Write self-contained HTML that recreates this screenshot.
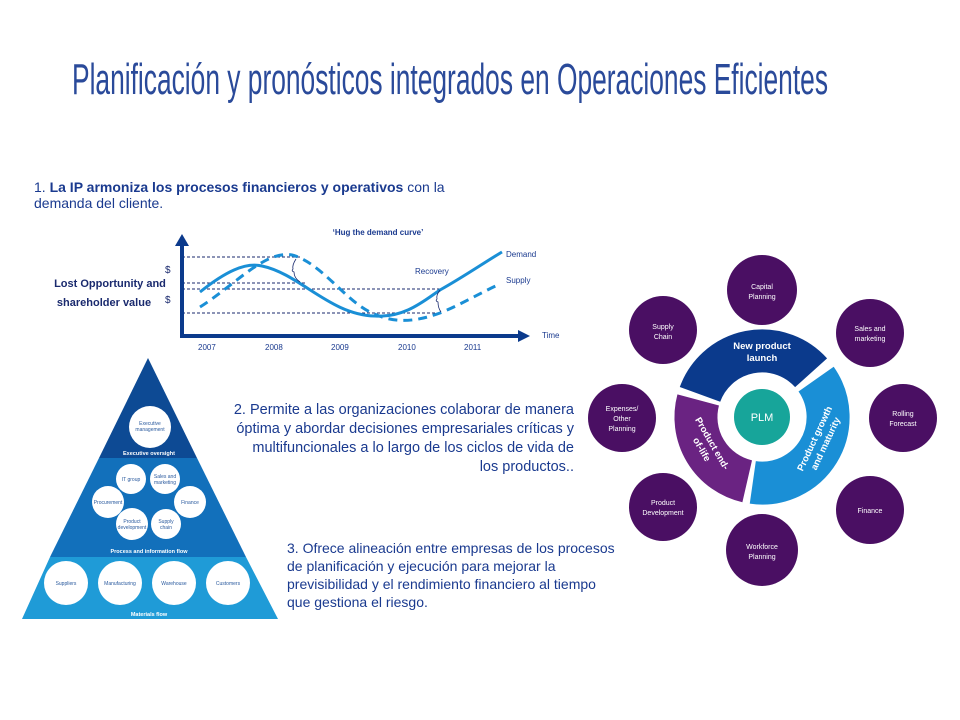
<!DOCTYPE html>
<html><head><meta charset="utf-8"><style>
html,body{margin:0;padding:0;background:#fff;}
svg{display:block;}
text{font-family:"Liberation Sans",sans-serif;}
</style></head><body>
<svg width="960" height="720" viewBox="0 0 960 720" xmlns="http://www.w3.org/2000/svg">
<rect width="960" height="720" fill="#fff"/>
<!-- Title -->
<text x="72" y="94" font-size="44" fill="#2a4a9a" textLength="756" lengthAdjust="spacingAndGlyphs" style="font-family:'Liberation Sans Narrow','Liberation Sans',sans-serif">Planificación y pronósticos integrados en Operaciones Eficientes</text>

<!-- Item 1 -->
<text x="34" y="192" font-size="14" fill="#1a3a8f">1. <tspan font-weight="bold">La IP armoniza los procesos financieros y operativos</tspan> con la</text>
<text x="34" y="208" font-size="14" fill="#1a3a8f">demanda del cliente.</text>

<!-- Chart -->
<text x="378" y="235" font-size="8" font-weight="bold" fill="#1a3a8f" text-anchor="middle">‘Hug the demand curve’</text>
<g stroke="#1a2a6e" stroke-width="1" stroke-dasharray="3,2">
<line x1="182" y1="257" x2="300" y2="257"/>
<line x1="182" y1="283" x2="305" y2="283"/>
<line x1="182" y1="289" x2="440" y2="289"/>
<line x1="182" y1="313" x2="440" y2="313"/>
</g>
<path d="M182 336 L182 244" stroke="#0b3a8c" stroke-width="4"/>
<polygon points="175,246 182,234 189,246" fill="#0b3a8c"/>
<path d="M180 336 L520 336" stroke="#0b3a8c" stroke-width="4"/>
<polygon points="518,330 530,336 518,342" fill="#0b3a8c"/>
<path d="M200 292 C225 272,245 262,262 266 C300 274,330 315,375 316 C405 318,425 300,440 290 C465 276,485 262,502 252" fill="none" stroke="#1a8fd6" stroke-width="3"/>
<path d="M200 307 C235 285,265 250,292 255 C320 262,345 300,370 312 C390 322,410 324,440 313 C460 305,480 293,500 284" fill="none" stroke="#1a8fd6" stroke-width="3" stroke-dasharray="9,6"/>
<path d="M296 259 q-4 6 -3 10 q-2 2 1 3 q0 6 6 10" fill="none" stroke="#1a2a6e" stroke-width="0.8"/>
<path d="M440 290 q-4 5 -3 9 q-2 2 1 3 q0 6 3 10" fill="none" stroke="#1a2a6e" stroke-width="0.8"/>
<g font-size="8" fill="#1a3a8f">
<text x="415" y="274">Recovery</text>
<text x="506" y="257">Demand</text>
<text x="506" y="283">Supply</text>
<text x="542" y="338">Time</text>
<text x="198" y="350">2007</text>
<text x="265" y="350">2008</text>
<text x="331" y="350">2009</text>
<text x="398" y="350">2010</text>
<text x="464" y="350">2011</text>
</g>
<text x="165" y="273" font-size="10" fill="#1a2a6e">$</text>
<text x="165" y="303" font-size="10" fill="#1a2a6e">$</text>
<text x="110" y="287" font-size="11" font-weight="bold" fill="#1a2a6e" text-anchor="middle">Lost Opportunity and</text>
<text x="104" y="306" font-size="11" font-weight="bold" fill="#1a2a6e" text-anchor="middle">shareholder value</text>

<!-- Pyramid -->
<polygon points="148,358 197,458 99,458" fill="#0d4a94"/>
<polygon points="99,458 197,458 246,557 50,557" fill="#1270bb"/>
<polygon points="50,557 246,557 278,619 22,619" fill="#1f9bd7"/>
<g fill="#fff">
<circle cx="150" cy="427" r="21"/>
<circle cx="131" cy="479" r="15"/>
<circle cx="165" cy="479" r="15"/>
<circle cx="108" cy="502" r="16"/>
<circle cx="190" cy="502" r="16"/>
<circle cx="132" cy="524" r="16"/>
<circle cx="166" cy="524" r="15"/>
<circle cx="66" cy="583" r="22"/>
<circle cx="120" cy="583" r="22"/>
<circle cx="174" cy="583" r="22"/>
<circle cx="228" cy="583" r="22"/>
</g>
<g font-size="5" fill="#2a5a9e" text-anchor="middle">
<text x="150" y="425">Executive</text><text x="150" y="431">management</text>
<text x="131" y="481">IT group</text>
<text x="165" y="478">Sales and</text><text x="165" y="484">marketing</text>
<text x="108" y="504">Procurement</text>
<text x="190" y="504">Finance</text>
<text x="132" y="523">Product</text><text x="132" y="529">development</text>
<text x="166" y="523">Supply</text><text x="166" y="529">chain</text>
<text x="66" y="585">Suppliers</text>
<text x="120" y="585">Manufacturing</text>
<text x="174" y="585">Warehouse</text>
<text x="228" y="585">Customers</text>
</g>
<g font-size="5.5" font-weight="bold" fill="#fff" text-anchor="middle">
<text x="149" y="455">Executive oversight</text>
<text x="149" y="553">Process and information flow</text>
<text x="149" y="616">Materials flow</text>
</g>

<!-- Item 2 -->
<g font-size="14.5" fill="#1a3a8f" text-anchor="end">
<text x="574" y="414">2. Permite a las organizaciones colaborar de manera</text>
<text x="574" y="433">óptima y abordar decisiones empresariales críticas y</text>
<text x="574" y="452">multifuncionales a lo largo de los ciclos de vida de</text>
<text x="574" y="471">los productos..</text>
</g>
<!-- Item 3 -->
<g font-size="14" fill="#1a3a8f">
<text x="287" y="553">3. Ofrece alineación entre empresas de los procesos</text>
<text x="287" y="571">de planificación y ejecución para mejorar la</text>
<text x="287" y="589">previsibilidad y el rendimiento financiero al tiempo</text>
<text x="287" y="607">que gestiona el riesgo.</text>
</g>

<!-- PLM wheel -->
<g fill="none" stroke-width="43">
<path d="M700.0 394.4 A66 66 0 0 1 811.1 372.8" stroke="#0b3a8c"/>
<path d="M816.1 379.1 A66 66 0 0 1 752.8 482.4" stroke="#1a8fd6"/>
<path d="M747.2 481.3 A66 66 0 0 1 698.2 399.9" stroke="#6a2382"/>
</g>
<circle cx="762" cy="417" r="28" fill="#17a59a"/>
<text x="762" y="421" font-size="11" fill="#fff" text-anchor="middle">PLM</text>
<g font-size="9.5" font-weight="bold" fill="#fff" text-anchor="middle">
<text x="762" y="349">New product</text>
<text x="762" y="361">launch</text>
<text transform="translate(822,442) rotate(-65)" x="0" y="-5">Product growth</text>
<text transform="translate(822,442) rotate(-65)" x="0" y="7">and maturity</text>
<text transform="translate(706,447) rotate(60)" x="0" y="-4">Product end-</text>
<text transform="translate(706,447) rotate(60)" x="0" y="8">of-life</text>
</g>
<g fill="#4a0f63">
<circle cx="762" cy="290" r="35"/>
<circle cx="663" cy="330" r="34"/>
<circle cx="870" cy="333" r="34"/>
<circle cx="622" cy="418" r="34"/>
<circle cx="903" cy="418" r="34"/>
<circle cx="663" cy="507" r="34"/>
<circle cx="870" cy="510" r="34"/>
<circle cx="762" cy="550" r="36"/>
</g>
<g font-size="7" fill="#fff" text-anchor="middle">
<text x="762" y="289">Capital</text><text x="762" y="299">Planning</text>
<text x="663" y="329">Supply</text><text x="663" y="339">Chain</text>
<text x="870" y="331">Sales and</text><text x="870" y="341">marketing</text>
<text x="622" y="411">Expenses/</text><text x="622" y="421">Other</text><text x="622" y="431">Planning</text>
<text x="903" y="416">Rolling</text><text x="903" y="426">Forecast</text>
<text x="663" y="505">Product</text><text x="663" y="515">Development</text>
<text x="870" y="513">Finance</text>
<text x="762" y="549">Workforce</text><text x="762" y="559">Planning</text>
</g>
</svg>
</body></html>
